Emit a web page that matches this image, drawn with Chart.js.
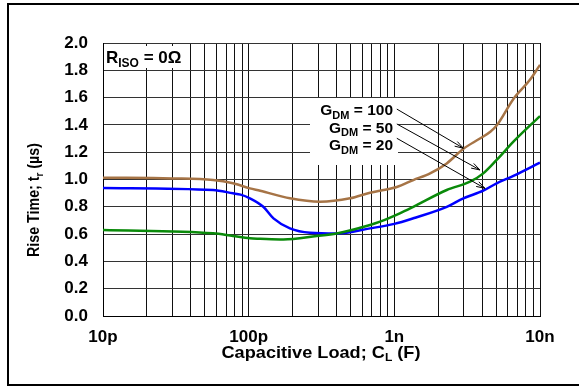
<!DOCTYPE html>
<html>
<head>
<meta charset="utf-8">
<script src="https://cdn.jsdelivr.net/npm/chart.js@4.4.1/dist/chart.umd.min.js"></script>
<style>
  body { margin: 0; background: #fff; }
  #c { display: block; }
</style>
</head>
<body>
<canvas id="c" width="579" height="386"></canvas>
<script>
// capacitive load in pF, rise time in µs
var g100X = [10, 30, 57, 78, 102, 120, 192, 309, 497, 681, 798, 1040, 1350, 1760, 2290, 2980, 3870, 4560, 5040, 6570, 8530, 10000];
var g100Y = [1.013, 1.008, 0.996, 0.972, 0.935, 0.918, 0.862, 0.837, 0.862, 0.903, 0.918, 0.945, 0.996, 1.045, 1.118, 1.225, 1.300, 1.350, 1.395, 1.59, 1.73, 1.84];

var g50X = [10, 57, 78, 102, 120, 173, 293, 402, 681, 798, 1090, 1350, 2290, 3310, 4080, 5040, 6570, 10000];
var g50Y = [0.630, 0.606, 0.586, 0.569, 0.566, 0.561, 0.586, 0.605, 0.667, 0.691, 0.752, 0.80, 0.923, 0.984, 1.045, 1.143, 1.277, 1.465];

var g20X = [10, 57, 78, 88, 102, 126, 148, 192, 264, 402, 681, 1000, 1350, 2290, 2980, 4080, 5040, 6570, 10000];
var g20Y = [0.938, 0.923, 0.899, 0.889, 0.862, 0.80, 0.715, 0.642, 0.61, 0.605, 0.642, 0.675, 0.716, 0.80, 0.862, 0.918, 0.972, 1.026, 1.123];

var xTickVals = [10, 100, 1000, 10000];
var xTickText = ['10p', '100p', '1n', '10n'];

var gainLabels = ['100', '50', '20'];
var arrowFrom = [[1040, 1.516], [1040, 1.407], [1040, 1.302]];
var arrowTo = [[2980, 1.229], [3870, 1.07], [4190, 0.935]];

function pts(xs, ys) {
  return xs.map(function (x, i) { return { x: x, y: ys[i] }; });
}

var FONT = '"Liberation Sans", Arial, sans-serif';

// draw text with one subscript piece: [main, sub, rest]
function subText(ctx, parts, x, y, size, align) {
  var big = 'bold ' + size + 'px ' + FONT;
  var small = 'bold ' + Math.round(size * 0.68) + 'px ' + FONT;
  ctx.font = big;
  var w1 = ctx.measureText(parts[0]).width;
  var w3 = ctx.measureText(parts[2]).width;
  ctx.font = small;
  var w2 = ctx.measureText(parts[1]).width;
  var total = w1 + w2 + w3;
  var x0 = x;
  if (align === 'center') x0 = x - total / 2;
  if (align === 'right') x0 = x - total;
  ctx.textAlign = 'left';
  ctx.textBaseline = 'middle';
  ctx.font = big;
  ctx.fillText(parts[0], x0, y);
  ctx.font = small;
  ctx.fillText(parts[1], x0 + w1, y + size * 0.32);
  ctx.font = big;
  ctx.fillText(parts[2], x0 + w1 + w2, y);
}

var decor = {
  id: 'decor',
  beforeDraw: function (chart) {
    var ctx = chart.ctx;
    ctx.save();
    ctx.fillStyle = '#fff';
    ctx.fillRect(0, 0, chart.width, chart.height);
    ctx.strokeStyle = '#000';
    ctx.lineWidth = 2;
    ctx.strokeRect(8, 4, 600, 381);
    ctx.restore();
  },
  beforeDatasetsDraw: function (chart) {
    var ctx = chart.ctx;
    ctx.save();
    ctx.fillStyle = '#fff';
    ctx.fillRect(104, 46, 80, 22);
    ctx.fillRect(310, 98, 88, 67);
    ctx.restore();
  },
  afterDatasetsDraw: function (chart) {
    var ctx = chart.ctx;
    var xs = chart.scales.x, ys = chart.scales.y;
    ctx.save();
    ctx.fillStyle = '#000';
    subText(ctx, ['R', 'ISO', ' = 0Ω'], 106, 58, 17, 'left');
    for (var i = 0; i < gainLabels.length; i++) {
      subText(ctx, ['G', 'DM', ' = ' + gainLabels[i]], 393, 111 + i * 17.3, 15.5, 'right');
      var x1 = xs.getPixelForValue(arrowFrom[i][0]), y1 = ys.getPixelForValue(arrowFrom[i][1]);
      var x2 = xs.getPixelForValue(arrowTo[i][0]), y2 = ys.getPixelForValue(arrowTo[i][1]);
      ctx.strokeStyle = '#000';
      ctx.lineWidth = 1;
      ctx.beginPath();
      ctx.moveTo(x1, y1);
      ctx.lineTo(x2, y2);
      var a = Math.atan2(y2 - y1, x2 - x1);
      ctx.moveTo(x2 - 9 * Math.cos(a - 0.3), y2 - 9 * Math.sin(a - 0.3));
      ctx.lineTo(x2, y2);
      ctx.lineTo(x2 - 9 * Math.cos(a + 0.3), y2 - 9 * Math.sin(a + 0.3));
      ctx.stroke();
    }
    ctx.save();
    ctx.translate(321, 353);
    ctx.scale(1.1, 1);
    subText(ctx, ['Capacitive Load; C', 'L', ' (F)'], 0, 0, 16.5, 'center');
    ctx.restore();
    ctx.translate(35, 200);
    ctx.rotate(-Math.PI / 2);
    ctx.scale(0.89, 1);
    subText(ctx, ['Rise Time; t', 'r', ' (µs)'], 0, 0, 16, 'center');
    ctx.restore();
  }
};

var lineStyle = { borderWidth: 2.5, pointRadius: 0, fill: false, cubicInterpolationMode: 'monotone' };

new Chart(document.getElementById('c'), {
  type: 'line',
  data: {
    datasets: [
      Object.assign({ label: 'GDM = 100', data: pts(g100X, g100Y), borderColor: '#A67446' }, lineStyle),
      Object.assign({ label: 'GDM = 50', data: pts(g50X, g50Y), borderColor: '#0A8A0A' }, lineStyle),
      Object.assign({ label: 'GDM = 20', data: pts(g20X, g20Y), borderColor: '#0000FF' }, lineStyle)
    ]
  },
  options: {
    responsive: false,
    animation: false,
    devicePixelRatio: 1,
    layout: { padding: { left: 8, top: 43, right: 39, bottom: 0 } },
    plugins: { legend: { display: false }, tooltip: { enabled: false } },
    scales: {
      x: {
        type: 'logarithmic',
        min: 10,
        max: 10000,
        afterBuildTicks: function (scale) {
          var t = [];
          for (var d = 10; d < 10000; d *= 10) {
            for (var m = 1; m < 10; m++) t.push({ value: d * m });
          }
          t.push({ value: 10000 });
          scale.ticks = t;
        },
        afterFit: function (scale) { scale.height = 70; },
        grid: { color: '#111', lineWidth: 1, drawTicks: false },
        border: { display: true, color: '#000', width: 1 },
        ticks: {
          autoSkip: false,
          maxRotation: 0,
          padding: 11,
          color: '#000',
          font: { family: FONT, size: 17, weight: 'bold' },
          callback: function (v) {
            var i = xTickVals.indexOf(Math.round(v));
            return i >= 0 ? xTickText[i] : '';
          }
        }
      },
      y: {
        min: 0,
        max: 2,
        afterFit: function (scale) { scale.width = 95; },
        grid: { color: '#333', lineWidth: 1, drawTicks: false },
        border: { display: true, color: '#000', width: 1 },
        ticks: {
          stepSize: 0.2,
          padding: 15,
          color: '#000',
          font: { family: FONT, size: 17, weight: 'bold' },
          callback: function (v) { return v.toFixed(1); }
        }
      }
    }
  },
  plugins: [decor]
});
</script>
</body>
</html>
